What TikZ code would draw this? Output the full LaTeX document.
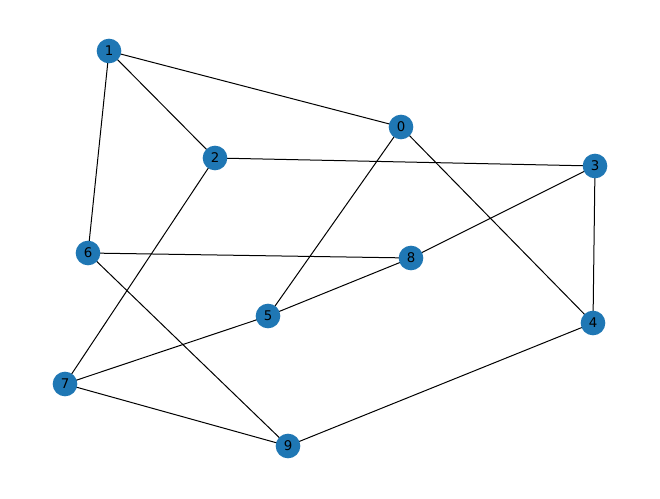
\documentclass[tikz,border=0pt]{standalone}
\usepackage{fontspec}
\setmainfont{DejaVu Sans}
\usetikzlibrary{backgrounds}
\definecolor{nodeblue}{HTML}{1F77B4}

\begin{document}
\begin{tikzpicture}
  [x=0.75pt, y=-0.75pt,
   vertex/.style={circle, fill=nodeblue, minimum size=18.5pt, inner sep=0pt,
     font=\fontsize{10}{11}\selectfont}]
  \useasboundingbox (0, 0) rectangle (660, 499);
  \node (n0) at (401, 127) [vertex] {0};
  \node (n1) at (109, 51) [vertex] {1};
  \node (n2) at (215, 158) [vertex] {2};
  \node (n3) at (595, 166) [vertex] {3};
  \node (n4) at (593, 323) [vertex] {4};
  \node (n5) at (268, 316) [vertex] {5};
  \node (n6) at (88, 253) [vertex] {6};
  \node (n7) at (65, 384) [vertex] {7};
  \node (n8) at (411, 258) [vertex] {8};
  \node (n9) at (288, 446) [vertex] {9};
  \begin{pgfonlayer}{background}
    \foreach \a/\b in {1/0, 1/2, 1/6, 0/5, 0/4, 2/3, 2/7, 3/8, 3/4,
                       6/8, 6/9, 5/8, 5/7, 7/9, 9/4}{
      \draw [black, line width=0.75pt] (n\a.center) -- (n\b.center);
    }
  \end{pgfonlayer}
\end{tikzpicture}
\end{document}
